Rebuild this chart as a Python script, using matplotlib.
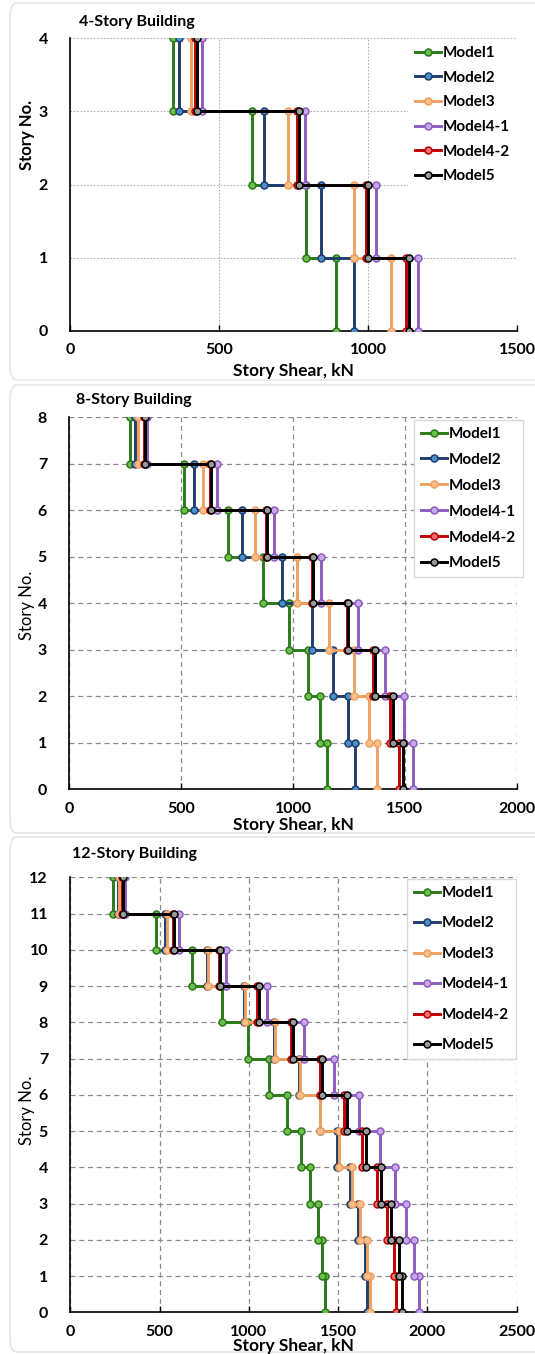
import matplotlib.pyplot as plt
from matplotlib.patches import FancyBboxPatch
import numpy as np

plt.rcParams['font.family'] = ['Lato', 'DejaVu Sans']

W, H = 535, 1354

models = ['Model1', 'Model2', 'Model3', 'Model4-1', 'Model4-2', 'Model5']

# story shear per story (story 1 .. top), kN
s4_m1 = [891, 793, 611, 345]
s4_m2 = [952, 843, 651, 366]
s4_m3 = [1077, 952, 730, 406]
s4_m41 = [1168, 1028, 788, 442]
s4_m42 = [1129, 993, 761, 420]
s4_m5 = [1139, 1001, 767, 425]

s8_m1 = [1152, 1122, 1069, 984, 865, 711, 513, 272]
s8_m2 = [1278, 1244, 1178, 1085, 950, 774, 558, 294]
s8_m3 = [1375, 1338, 1271, 1162, 1017, 828, 597, 309]
s8_m41 = [1536, 1494, 1412, 1289, 1125, 913, 659, 349]
s8_m42 = [1475, 1435, 1357, 1241, 1083, 878, 630, 335]
s8_m5 = [1490, 1445, 1368, 1248, 1089, 883, 634, 339]

s12_m1 = [1429, 1412, 1388, 1345, 1291, 1215, 1114, 996, 847, 679, 478, 241]
s12_m2 = [1664, 1649, 1612, 1565, 1494, 1398, 1280, 1140, 972, 766, 533, 268]
s12_m3 = [1677, 1662, 1625, 1578, 1503, 1401, 1285, 1146, 978, 772, 539, 274]
s12_m41 = [1951, 1923, 1882, 1821, 1733, 1617, 1477, 1308, 1102, 871, 610, 306]
s12_m42 = [1826, 1811, 1774, 1720, 1634, 1533, 1397, 1238, 1043, 830, 576, 289]
s12_m5 = [1858, 1839, 1798, 1742, 1658, 1547, 1407, 1248, 1056, 838, 582, 293]

line_cols = ['#2a7a1a', '#1f3d6e', '#f0a060', '#8e5cc0', '#c00000', '#000000']
face_cols = ['#6cbf4a', '#4a8fcc', '#fbc08c', '#c8a8e8', '#f07070', '#999999']


def fx(px):
    return px / W


def fy(py):
    return 1 - py / H


def step(v):
    xs, ys = [], []
    for i, val in enumerate(v):
        xs += [val, val]
        ys += [i, i + 1]
    return xs, ys


panels = [
    dict(data=[s4_m1, s4_m2, s4_m3, s4_m41, s4_m42, s4_m5], n=4, xmax=1500,
         box=(3, 380), ax=(70, 517, 38.3, 331), title='4-Story Building', ty=21.7,
         tx=79, xl_y=371, grid=':', ylbold='bold', yl_y=135,
         leg=(408, 39), legframe=False, lspace=0.7),
    dict(data=[s8_m1, s8_m2, s8_m3, s8_m41, s8_m42, s8_m5], n=8, xmax=2000,
         box=(385, 833), ax=(69.3, 516.7, 417.3, 789.3), title='8-Story Building', ty=400,
         tx=76, xl_y=825, grid='--', ylbold='normal', yl_y=605,
         leg=(414, 420), legframe=True, lspace=0.78),
    dict(data=[s12_m1, s12_m2, s12_m3, s12_m41, s12_m42, s12_m5], n=12, xmax=2500,
         box=(837, 1352), ax=(70.3, 516.7, 877.3, 1312.3), title='12-Story Building', ty=854,
         tx=72, xl_y=1346, grid='--', ylbold='normal', yl_y=1110,
         leg=(407, 879), legframe=True, lspace=1.08),
]

fig = plt.figure(figsize=(W / 100, H / 100), dpi=100)

for p in panels:
    b0, b1 = p['box']
    fig.patches.append(FancyBboxPatch((fx(10), fy(b1)), fx(560), (b1 - b0) / H,
                                      boxstyle='round,pad=0,rounding_size=0.012',
                                      transform=fig.transFigure, facecolor='white',
                                      edgecolor='#e2e2e2', linewidth=1, zorder=-10))

    l, r, t, bt = p['ax']
    ax = fig.add_axes([fx(l), fy(bt), fx(r - l), (bt - t) / H])
    ax.set_facecolor('none')
    for v, lc, fc, name in zip(p['data'], line_cols, face_cols, models):
        xs, ys = step(v)
        ax.plot(xs, ys, '-o', color=lc, lw=2.1, markersize=5,
                markerfacecolor=fc, markeredgecolor=lc, markeredgewidth=1.1,
                label=name, zorder=3)

    ax.set_xlim(0, p['xmax'])
    ax.set_ylim(0, p['n'])
    ax.set_xticks(np.arange(0, p['xmax'] + 1, 500))
    ax.set_yticks(np.arange(0, p['n'] + 1, 1))
    if p['grid'] == ':':
        ax.grid(True, linestyle=(0, (1.5, 1.5)), color='#b0b0b0', lw=0.8)
    else:
        ax.grid(True, linestyle=(0, (4, 3)), color='#8a8a8a', lw=0.9)
    ax.set_axisbelow(True)
    for s in ['top', 'right']:
        ax.spines[s].set_visible(False)
    for s in ['left', 'bottom']:
        ax.spines[s].set_linewidth(1.2)
    ax.tick_params(axis='x', direction='in', length=4, width=1, pad=9, labelsize=11.5)
    ax.tick_params(axis='y', length=0, pad=16, labelsize=11.5)
    for lab in ax.get_xticklabels() + ax.get_yticklabels():
        lab.set_fontweight('bold')

    fig.text(fx(p['tx']), fy(p['ty']), p['title'], fontsize=11.5, fontweight='bold',
             ha='left', va='center')
    fig.text(fx((l + r) / 2), fy(p['xl_y']), 'Story Shear, kN', fontsize=12.5,
             fontweight='bold', ha='center', va='center')
    fig.text(fx(27), fy(p['yl_y']), 'Story No.', fontsize=12, fontweight=p['ylbold'],
             rotation=90, ha='center', va='center')

    lx, ly = p['leg']
    leg = ax.legend(loc='upper left', bbox_to_anchor=(fx(lx), fy(ly)),
                    bbox_transform=fig.transFigure, frameon=True, fancybox=False,
                    fontsize=11, labelspacing=p['lspace'], handlelength=1.7,
                    handletextpad=0.1, borderpad=0.45, borderaxespad=0)
    leg.get_frame().set_facecolor('white')
    leg.get_frame().set_alpha(1)
    leg.get_frame().set_edgecolor('#d8d8d8' if p['legframe'] else 'white')
    leg.get_frame().set_linewidth(1)
    for txt in leg.get_texts():
        txt.set_fontweight('bold')

plt.savefig('out.png', dpi=100)
